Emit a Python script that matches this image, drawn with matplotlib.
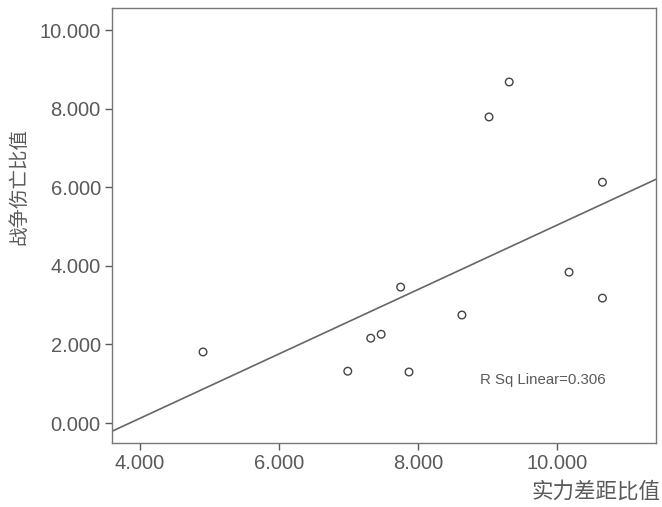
import numpy as np
import matplotlib
matplotlib.use("Agg")
import matplotlib.pyplot as plt
from matplotlib import font_manager

plt.rcParams['font.family'] = ['Liberation Sans', 'Noto Sans CJK SC', 'DejaVu Sans']

# Data
strength_ratio = [4.91, 6.99, 7.32, 7.47, 7.75, 7.87, 8.63, 9.02, 9.31, 10.17, 10.65, 10.65]
casualty_ratio = [1.81, 1.32, 2.16, 2.26, 3.46, 1.30, 2.75, 7.79, 8.68, 3.84, 6.13, 3.18]
x_ticks = [4, 6, 8, 10]
y_ticks = [0, 2, 4, 6, 8, 10]
x_label = "实力差距比值"
y_label = "战争伤亡比值"
r2_text = "R Sq Linear=0.306"

names = {f.name for f in font_manager.fontManager.ttflist}
narrow = 'Liberation Sans Narrow' if 'Liberation Sans Narrow' in names else 'Liberation Sans'
r2_size = 13 if narrow == 'Liberation Sans Narrow' else 10.8

fig = plt.figure(figsize=(6.62, 5.07), dpi=100)
ax = fig.add_axes([0.169, 0.126, 0.822, 0.858])

gray = "#5a5a5a"
x = np.array(strength_ratio)
y = np.array(casualty_ratio)
ax.scatter(x, y, s=30, facecolors='none', edgecolors='#444444', linewidths=1.0, zorder=3)

xlim = (3.6, 11.42)
slope, intercept = np.polyfit(x, y, 1)
xl = np.array(xlim)
ax.plot(xl, slope * xl + intercept, color='#666666', linewidth=1.2)

ax.set_xlim(*xlim)
ax.set_ylim(-0.51, 10.56)
ax.set_xticks(x_ticks)
ax.set_yticks(y_ticks)
ax.set_xticklabels([f"{v:.3f}" for v in x_ticks])
ax.set_yticklabels([f"{v:.3f}" for v in y_ticks])
ax.tick_params(direction='out', length=5, width=1, color=gray, labelcolor=gray, labelsize=14.5, pad=3)

for sp in ax.spines.values():
    sp.set_color('#777777')
    sp.set_linewidth(1.0)

ax.text(0.908, 0.145, r2_text, transform=ax.transAxes, ha='right', va='center',
        fontsize=r2_size, color=gray, family=[narrow])

ax.set_ylabel(y_label, fontsize=14, color=gray, family=['Noto Sans CJK SC'])
ax.yaxis.set_label_coords(-0.152, 0.59)
fig.text(0.997, 0.03, x_label, ha='right', va='center', fontsize=15.5, color=gray,
         family=['Noto Sans CJK SC'])

fig.savefig("out.png", dpi=100, facecolor='white')
